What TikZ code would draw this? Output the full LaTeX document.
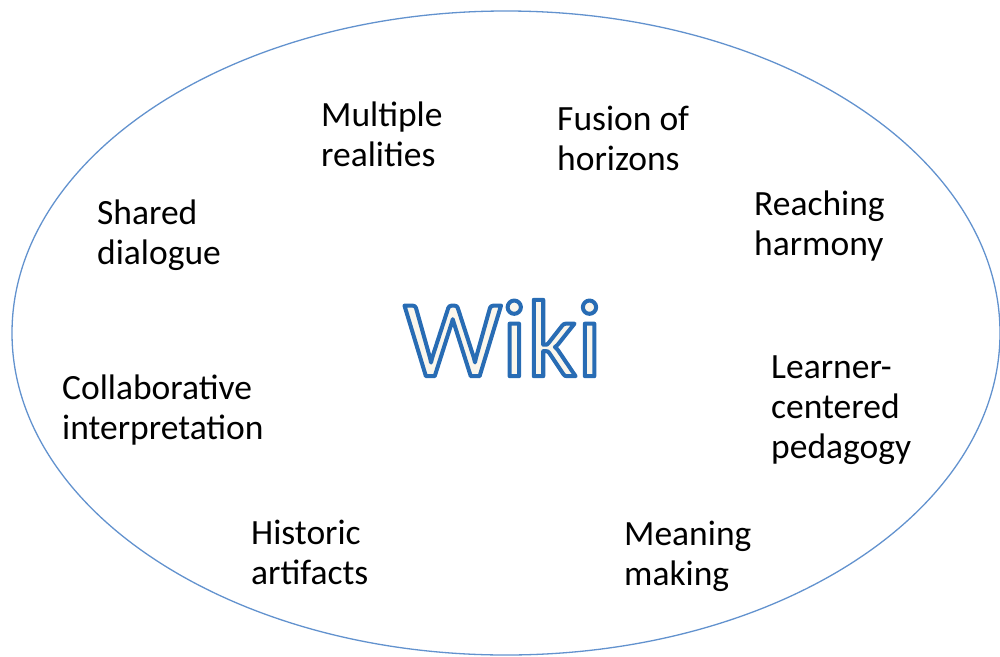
\documentclass[tikz,border=0pt]{standalone}
\usepackage{fontspec}
\usetikzlibrary{shapes.geometric}
\setmainfont{Carlito}
\definecolor{ringblue}{RGB}{98,146,206}
\definecolor{wikifill}{RGB}{250,246,236}
\tikzset{
  lbl/.style={anchor=west, align=left, inner sep=0pt, font=\fontsize{35.5}{40}\selectfont, text=black},
  ring/.style={draw=ringblue, line width=1.3pt},
}
\begin{document}
\begin{tikzpicture}[x=1pt,y=-1pt]
\useasboundingbox (0,0) rectangle (1000,656);
\node[ring, ellipse, minimum width=988pt, minimum height=644pt, inner sep=0pt] (rim) at (506,333) {};
\node[anchor=center, inner sep=0pt, font=\fontsize{110}{116}\selectfont] (wiki) at (503,338) {{\color{wikifill}\special{pdf:literal direct 2 Tr 4 w 1 j 0.157 0.424 0.706 RG}Wiki\special{pdf:literal direct 0 Tr}}};
\node[lbl] (multiple) at (321,134) {Multiple\\realities};
\node[lbl] (fusion) at (557,138) {Fusion of\\horizons};
\node[lbl] (shared) at (97,235) {Shared\\dialogue};
\node[lbl] (reaching) at (754,226) {Reaching\\harmony};
\node[lbl] (collab) at (62,410) {Collaborative\\interpretation};
\node[lbl] (learner) at (771,410) {Learner-\\centered\\pedagogy};
\node[lbl] (historic) at (251,552) {Historic\\artifacts};
\node[lbl] (meaning) at (624,556) {Meaning\\making};
\end{tikzpicture}
\end{document}
